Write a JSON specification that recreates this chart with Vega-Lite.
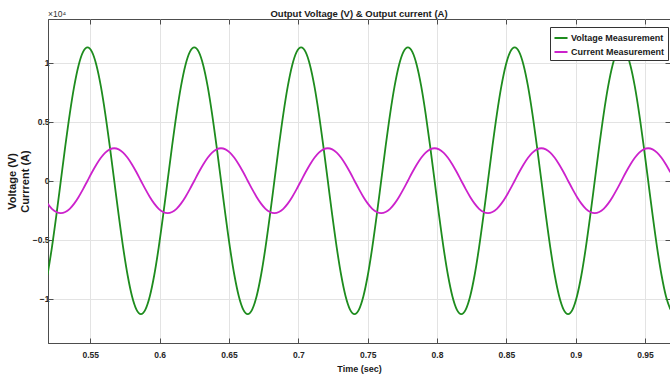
{
  "$schema": "https://vega.github.io/schema/vega-lite/v6.json",
  "width": 622,
  "height": 324,
  "autosize": {"type": "none"},
  "padding": {"left": 48, "top": 19, "right": 0, "bottom": 36},
  "background": "white",
  "config": {
    "view": {"stroke": "#4d4d4d", "strokeWidth": 1},
    "font": "Liberation Sans"
  },
  "title": {"text": "Output Voltage (V) & Output current (A)", "fontSize": 9.5, "font": "Liberation Sans", "fontWeight": "bold", "color": "#1a1a1a", "offset": -8, "anchor": "middle"},
  "resolve": {"axis": {"x": "independent", "y": "independent"}},
  "datasets": {
    "w": [
      {"t":0.51913,"v":-0.799,"c":-0.1945},
      {"t":0.52233,"v":-0.565,"c":-0.2382},
      {"t":0.52554,"v":-0.2925,"c":-0.2656},
      {"t":0.52875,"v":0,"c":-0.275},
      {"t":0.53196,"v":0.2925,"c":-0.2656},
      {"t":0.53517,"v":0.565,"c":-0.2382},
      {"t":0.53838,"v":0.799,"c":-0.1945},
      {"t":0.54158,"v":0.9786,"c":-0.1375},
      {"t":0.54479,"v":1.0915,"c":-0.0712},
      {"t":0.548,"v":1.13,"c":0},
      {"t":0.55121,"v":1.0915,"c":0.0712},
      {"t":0.55442,"v":0.9786,"c":0.1375},
      {"t":0.55763,"v":0.799,"c":0.1945},
      {"t":0.56083,"v":0.565,"c":0.2382},
      {"t":0.56404,"v":0.2925,"c":0.2656},
      {"t":0.56725,"v":0,"c":0.275},
      {"t":0.57046,"v":-0.2925,"c":0.2656},
      {"t":0.57367,"v":-0.565,"c":0.2382},
      {"t":0.57688,"v":-0.799,"c":0.1945},
      {"t":0.58008,"v":-0.9786,"c":0.1375},
      {"t":0.58329,"v":-1.0915,"c":0.0712},
      {"t":0.5865,"v":-1.13,"c":0},
      {"t":0.58971,"v":-1.0915,"c":-0.0712},
      {"t":0.59292,"v":-0.9786,"c":-0.1375},
      {"t":0.59613,"v":-0.799,"c":-0.1945},
      {"t":0.59933,"v":-0.565,"c":-0.2382},
      {"t":0.60254,"v":-0.2925,"c":-0.2656},
      {"t":0.60575,"v":0,"c":-0.275},
      {"t":0.60896,"v":0.2925,"c":-0.2656},
      {"t":0.61217,"v":0.565,"c":-0.2382},
      {"t":0.61538,"v":0.799,"c":-0.1945},
      {"t":0.61858,"v":0.9786,"c":-0.1375},
      {"t":0.62179,"v":1.0915,"c":-0.0712},
      {"t":0.625,"v":1.13,"c":0},
      {"t":0.62821,"v":1.0915,"c":0.0712},
      {"t":0.63142,"v":0.9786,"c":0.1375},
      {"t":0.63463,"v":0.799,"c":0.1945},
      {"t":0.63783,"v":0.565,"c":0.2382},
      {"t":0.64104,"v":0.2925,"c":0.2656},
      {"t":0.64425,"v":0,"c":0.275},
      {"t":0.64746,"v":-0.2925,"c":0.2656},
      {"t":0.65067,"v":-0.565,"c":0.2382},
      {"t":0.65388,"v":-0.799,"c":0.1945},
      {"t":0.65708,"v":-0.9786,"c":0.1375},
      {"t":0.66029,"v":-1.0915,"c":0.0712},
      {"t":0.6635,"v":-1.13,"c":0},
      {"t":0.66671,"v":-1.0915,"c":-0.0712},
      {"t":0.66992,"v":-0.9786,"c":-0.1375},
      {"t":0.67313,"v":-0.799,"c":-0.1945},
      {"t":0.67633,"v":-0.565,"c":-0.2382},
      {"t":0.67954,"v":-0.2925,"c":-0.2656},
      {"t":0.68275,"v":0,"c":-0.275},
      {"t":0.68596,"v":0.2925,"c":-0.2656},
      {"t":0.68917,"v":0.565,"c":-0.2382},
      {"t":0.69238,"v":0.799,"c":-0.1945},
      {"t":0.69558,"v":0.9786,"c":-0.1375},
      {"t":0.69879,"v":1.0915,"c":-0.0712},
      {"t":0.702,"v":1.13,"c":0},
      {"t":0.70521,"v":1.0915,"c":0.0712},
      {"t":0.70842,"v":0.9786,"c":0.1375},
      {"t":0.71163,"v":0.799,"c":0.1945},
      {"t":0.71483,"v":0.565,"c":0.2382},
      {"t":0.71804,"v":0.2925,"c":0.2656},
      {"t":0.72125,"v":0,"c":0.275},
      {"t":0.72446,"v":-0.2925,"c":0.2656},
      {"t":0.72767,"v":-0.565,"c":0.2382},
      {"t":0.73088,"v":-0.799,"c":0.1945},
      {"t":0.73408,"v":-0.9786,"c":0.1375},
      {"t":0.73729,"v":-1.0915,"c":0.0712},
      {"t":0.7405,"v":-1.13,"c":0},
      {"t":0.74371,"v":-1.0915,"c":-0.0712},
      {"t":0.74692,"v":-0.9786,"c":-0.1375},
      {"t":0.75013,"v":-0.799,"c":-0.1945},
      {"t":0.75333,"v":-0.565,"c":-0.2382},
      {"t":0.75654,"v":-0.2925,"c":-0.2656},
      {"t":0.75975,"v":0,"c":-0.275},
      {"t":0.76296,"v":0.2925,"c":-0.2656},
      {"t":0.76617,"v":0.565,"c":-0.2382},
      {"t":0.76938,"v":0.799,"c":-0.1945},
      {"t":0.77258,"v":0.9786,"c":-0.1375},
      {"t":0.77579,"v":1.0915,"c":-0.0712},
      {"t":0.779,"v":1.13,"c":0},
      {"t":0.78221,"v":1.0915,"c":0.0712},
      {"t":0.78542,"v":0.9786,"c":0.1375},
      {"t":0.78863,"v":0.799,"c":0.1945},
      {"t":0.79183,"v":0.565,"c":0.2382},
      {"t":0.79504,"v":0.2925,"c":0.2656},
      {"t":0.79825,"v":0,"c":0.275},
      {"t":0.80146,"v":-0.2925,"c":0.2656},
      {"t":0.80467,"v":-0.565,"c":0.2382},
      {"t":0.80788,"v":-0.799,"c":0.1945},
      {"t":0.81108,"v":-0.9786,"c":0.1375},
      {"t":0.81429,"v":-1.0915,"c":0.0712},
      {"t":0.8175,"v":-1.13,"c":0},
      {"t":0.82071,"v":-1.0915,"c":-0.0712},
      {"t":0.82392,"v":-0.9786,"c":-0.1375},
      {"t":0.82713,"v":-0.799,"c":-0.1945},
      {"t":0.83033,"v":-0.565,"c":-0.2382},
      {"t":0.83354,"v":-0.2925,"c":-0.2656},
      {"t":0.83675,"v":0,"c":-0.275},
      {"t":0.83996,"v":0.2925,"c":-0.2656},
      {"t":0.84317,"v":0.565,"c":-0.2382},
      {"t":0.84638,"v":0.799,"c":-0.1945},
      {"t":0.84958,"v":0.9786,"c":-0.1375},
      {"t":0.85279,"v":1.0915,"c":-0.0712},
      {"t":0.856,"v":1.13,"c":0},
      {"t":0.85921,"v":1.0915,"c":0.0712},
      {"t":0.86242,"v":0.9786,"c":0.1375},
      {"t":0.86563,"v":0.799,"c":0.1945},
      {"t":0.86883,"v":0.565,"c":0.2382},
      {"t":0.87204,"v":0.2925,"c":0.2656},
      {"t":0.87525,"v":0,"c":0.275},
      {"t":0.87846,"v":-0.2925,"c":0.2656},
      {"t":0.88167,"v":-0.565,"c":0.2382},
      {"t":0.88488,"v":-0.799,"c":0.1945},
      {"t":0.88808,"v":-0.9786,"c":0.1375},
      {"t":0.89129,"v":-1.0915,"c":0.0712},
      {"t":0.8945,"v":-1.13,"c":0},
      {"t":0.89771,"v":-1.0915,"c":-0.0712},
      {"t":0.90092,"v":-0.9786,"c":-0.1375},
      {"t":0.90413,"v":-0.799,"c":-0.1945},
      {"t":0.90733,"v":-0.565,"c":-0.2382},
      {"t":0.91054,"v":-0.2925,"c":-0.2656},
      {"t":0.91375,"v":0,"c":-0.275},
      {"t":0.91696,"v":0.2925,"c":-0.2656},
      {"t":0.92017,"v":0.565,"c":-0.2382},
      {"t":0.92338,"v":0.799,"c":-0.1945},
      {"t":0.92658,"v":0.9786,"c":-0.1375},
      {"t":0.92979,"v":1.0915,"c":-0.0712},
      {"t":0.933,"v":1.13,"c":0},
      {"t":0.93621,"v":1.0915,"c":0.0712},
      {"t":0.93942,"v":0.9786,"c":0.1375},
      {"t":0.94263,"v":0.799,"c":0.1945},
      {"t":0.94583,"v":0.565,"c":0.2382},
      {"t":0.94904,"v":0.2925,"c":0.2656},
      {"t":0.95225,"v":0,"c":0.275},
      {"t":0.95546,"v":-0.2925,"c":0.2656},
      {"t":0.95867,"v":-0.565,"c":0.2382},
      {"t":0.96188,"v":-0.799,"c":0.1945},
      {"t":0.96508,"v":-0.9786,"c":0.1375},
      {"t":0.96829,"v":-1.0915,"c":0.0712}
    ]
  },
  "layer": [
    {
      "data": {"name": "w"},
      "transform": [{"fold": ["v", "c"], "as": ["series", "value"]}],
      "mark": {"type": "line", "strokeWidth": 1.8, "clip": true, "interpolate": "monotone"},
      "encoding": {
        "x": {
          "field": "t", "type": "quantitative",
          "scale": {"domain": [0.5195, 0.968], "nice": false, "zero": false},
          "axis": {
            "values": [0.55, 0.6, 0.65, 0.7, 0.75, 0.8, 0.85, 0.9, 0.95],
            "format": "~g",
            "title": "Time (sec)",
            "titleFont": "Liberation Sans", "titleFontSize": 9, "titleFontWeight": "bold", "titleColor": "#1a1a1a", "titlePadding": 6,
            "labelFont": "Liberation Sans", "labelFontSize": 8.5, "labelFontWeight": "bold", "labelColor": "#262626", "labelPadding": 12,
            "tickSize": -5, "tickColor": "#4d4d4d", "domainColor": "#4d4d4d",
            "grid": true, "gridColor": "#e3e3e3", "gridWidth": 1
          }
        },
        "y": {
          "field": "value", "type": "quantitative",
          "scale": {"domain": [-1.375, 1.37], "nice": false, "zero": false},
          "axis": {
            "values": [-1, -0.5, 0, 0.5, 1],
            "format": "~g",
            "title": ["Voltage (V)", "Currrent (A)"],
            "titleFont": "Liberation Sans", "titleFontSize": 11, "titleFontWeight": "bold", "titleColor": "#1a1a1a", "titlePadding": 2,
            "labelFont": "Liberation Sans", "labelFontSize": 8.5, "labelFontWeight": "bold", "labelColor": "#262626", "labelPadding": 4,
            "tickSize": -5, "tickColor": "#4d4d4d", "domainColor": "#4d4d4d",
            "grid": true, "gridColor": "#e3e3e3", "gridWidth": 1
          }
        },
        "color": {
          "field": "series", "type": "nominal",
          "scale": {"domain": ["v", "c"], "range": ["#1e8c1e", "#cc22cc"]},
          "legend": {
            "title": null,
            "orient": "none", "legendX": 502, "legendY": 8,
            "labelExpr": "datum.label == 'v' ? 'Voltage Measurement' : 'Current Measurement'",
            "labelFont": "Liberation Sans", "labelFontSize": 9, "labelFontWeight": "bold", "labelColor": "#1a1a1a",
            "symbolType": "stroke", "symbolStrokeWidth": 2, "symbolSize": 170,
            "strokeColor": "#333333", "fillColor": "white", "padding": 3, "rowPadding": 1, "labelOffset": 2
          }
        }
      }
    },
    {
      "data": {"values": [{"label": "×10⁴"}]},
      "mark": {"type": "text", "align": "left", "baseline": "alphabetic", "dy": -2, "fontSize": 8.5, "font": "Liberation Sans", "color": "#333333", "clip": false},
      "encoding": {
        "x": {
          "datum": 0.5195, "type": "quantitative",
          "axis": {"orient": "top", "values": [0.55, 0.6, 0.65, 0.7, 0.75, 0.8, 0.85, 0.9, 0.95], "labels": false, "title": null, "grid": false, "domain": false, "tickSize": -5, "tickColor": "#4d4d4d"}
        },
        "y": {
          "datum": 1.37, "type": "quantitative",
          "axis": {"orient": "right", "values": [-1, -0.5, 0, 0.5, 1], "labels": false, "title": null, "grid": false, "domain": false, "tickSize": -5, "tickColor": "#4d4d4d"}
        },
        "text": {"field": "label"}
      }
    }
  ]
}
